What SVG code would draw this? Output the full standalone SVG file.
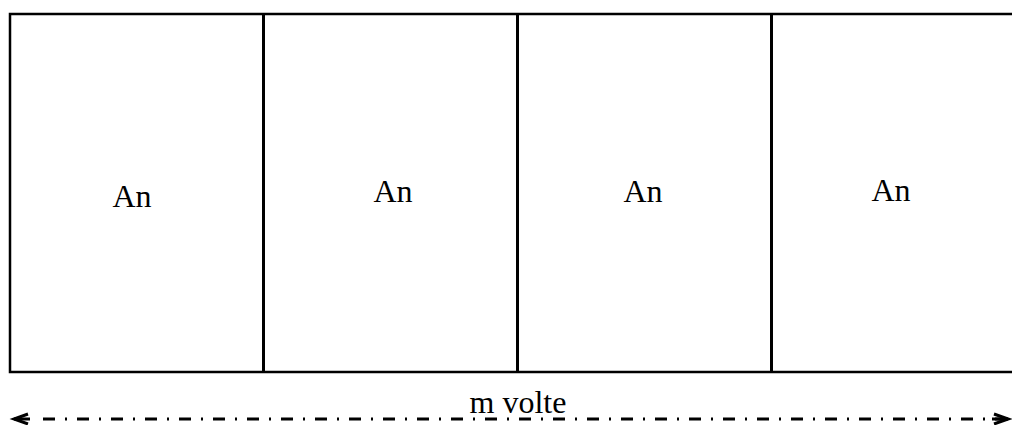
<svg xmlns="http://www.w3.org/2000/svg" width="1012" height="425" viewBox="0 0 1012 425">
<style>
.lbl{font-family:"Liberation Serif","Times New Roman",serif;font-size:32px;fill:#000;text-anchor:middle}
.box{fill:none;stroke:#000;stroke-width:2.5}
.div{stroke:#000;stroke-width:3}
.dim{stroke:#000;stroke-width:3;fill:none;stroke-dasharray:12 10 2 10}
.head{stroke:#000;stroke-width:3;fill:none}
</style>
<rect width="1012" height="425" fill="#fff"/>
<g id="frame">
<rect class="box" x="10" y="14" width="1020" height="358"/>
</g>
<g id="cell1"><text class="lbl" x="132" y="207">An</text></g>
<g id="cell2"><line class="div" x1="263.5" y1="14" x2="263.5" y2="372"/><text class="lbl" x="393" y="202">An</text></g>
<g id="cell3"><line class="div" x1="517.5" y1="14" x2="517.5" y2="372"/><text class="lbl" x="643" y="202">An</text></g>
<g id="cell4"><line class="div" x1="771.5" y1="14" x2="771.5" y2="372"/><text class="lbl" x="891" y="201">An</text></g>
<g id="connectors">
<line class="dim" x1="43" y1="419" x2="1000" y2="419"/>
<path class="head" d="M28,414 L14,419 L28,424"/>
<path class="head" d="M994,414 L1008,419 L994,424"/>
<line stroke="#000" stroke-width="3" x1="14" y1="419" x2="30" y2="419"/>
<line stroke="#000" stroke-width="3" x1="992" y1="419" x2="1008" y2="419"/>
</g>
<text class="lbl" x="518" y="413">m volte</text>
</svg>
